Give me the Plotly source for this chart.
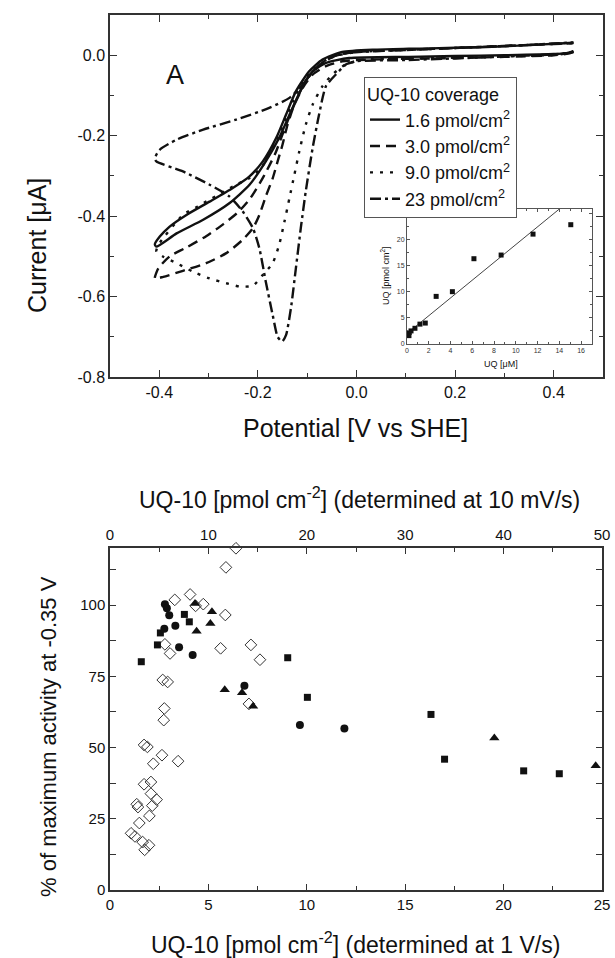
import plotly.graph_objects as go

W, H = 615, 958
def px(x): return x / W
def py(y): return 1 - y / H

# ---------------- Top panel: cyclic voltammograms ----------------
cv_names = ["1.6 pmol/cm<sup>2</sup>", "3.0 pmol/cm<sup>2</sup>",
            "9.0 pmol/cm<sup>2</sup>", "23 pmol/cm<sup>2</sup>"]

e_16 = [0.44, 0.35, 0.25, 0.15, 0.106, 0.039, -0.029, -0.069, -0.096, -0.123, -0.143, -0.163, -0.19,
        -0.217, -0.251, -0.298, -0.345, -0.379, -0.399, -0.409, -0.406, -0.365, -0.311, -0.258,
        -0.217, -0.184, -0.157, -0.133, -0.109, -0.089, -0.062, -0.015, 0.106, 0.2, 0.3, 0.4, 0.43, 0.44]
i_16 = [0.031, 0.025, 0.020, 0.017, 0.016, 0.014, 0.008, -0.011, -0.040, -0.090, -0.148, -0.206, -0.264,
        -0.301, -0.330, -0.364, -0.397, -0.426, -0.451, -0.470, -0.476, -0.443, -0.409, -0.368,
        -0.322, -0.264, -0.206, -0.140, -0.077, -0.040, -0.019, -0.007, -0.004, -0.002, 0.0, 0.003, 0.006, 0.009]

e_30 = [0.44, 0.43, 0.4, 0.3, 0.2, 0.1, 0.0, -0.029, -0.062, -0.089, -0.109, -0.126, -0.140, -0.150,
        -0.160, -0.170, -0.184, -0.197, -0.210, -0.231, -0.264, -0.305, -0.352, -0.392, -0.409, -0.402,
        -0.379, -0.345, -0.305, -0.27, -0.24, -0.215, -0.19, -0.165, -0.145, -0.12, -0.1, -0.07, -0.04,
        0.0, 0.1, 0.2, 0.3, 0.4, 0.44]
i_30 = [0.008, 0.004, 0.0, -0.004, -0.007, -0.009, -0.012, -0.015, -0.027, -0.048, -0.081, -0.123,
        -0.173, -0.222, -0.264, -0.306, -0.351, -0.397, -0.430, -0.459, -0.492, -0.517, -0.536, -0.551,
        -0.555, -0.530, -0.5, -0.478, -0.45, -0.42, -0.39, -0.355, -0.305, -0.245, -0.18, -0.105, -0.058,
        -0.02, 0.0, 0.008, 0.013, 0.018, 0.023, 0.028, 0.030]

e_90 = [0.44, 0.43, 0.4, 0.3, 0.2, 0.1, 0.012, -0.022, -0.049, -0.069, -0.089, -0.103, -0.116, -0.126,
        -0.136, -0.146, -0.157, -0.170, -0.190, -0.210, -0.237, -0.264, -0.298, -0.332, -0.365, -0.392,
        -0.406, -0.402, -0.352, -0.322, -0.298, -0.244, -0.217, -0.194, -0.177, -0.163, -0.143, -0.123,
        -0.103, -0.076, -0.042, 0.0, 0.1, 0.2, 0.3, 0.4, 0.44]
i_90 = [0.009, 0.005, 0.001, -0.003, -0.006, -0.009, -0.011, -0.023, -0.048, -0.077, -0.123, -0.173,
        -0.239, -0.297, -0.355, -0.413, -0.472, -0.517, -0.546, -0.573, -0.575, -0.567, -0.555, -0.538,
        -0.517, -0.501, -0.488, -0.472, -0.397, -0.376, -0.359, -0.322, -0.305, -0.281, -0.247, -0.214,
        -0.156, -0.098, -0.056, -0.023, -0.002, 0.008, 0.013, 0.018, 0.023, 0.028, 0.030]

e_23 = [0.44, 0.43, 0.4, 0.3, 0.2, 0.1, 0.0, -0.02, -0.042, -0.062, -0.076, -0.089, -0.103, -0.113,
        -0.123, -0.133, -0.143, -0.151, -0.160, -0.170, -0.184, -0.197, -0.210, -0.231, -0.258, -0.298,
        -0.352, -0.406, -0.409, -0.399, -0.365, -0.311, -0.244, -0.177, -0.136, -0.109, -0.082, -0.056,
        -0.015, 0.1, 0.2, 0.3, 0.4, 0.44]
i_23 = [0.010, 0.006, 0.002, -0.003, -0.008, -0.012, -0.015, -0.022, -0.048, -0.077, -0.148, -0.231,
        -0.339, -0.430, -0.530, -0.629, -0.696, -0.712, -0.700, -0.646, -0.563, -0.480, -0.430, -0.388,
        -0.351, -0.322, -0.289, -0.264, -0.256, -0.235, -0.210, -0.185, -0.160, -0.131, -0.106, -0.073,
        -0.032, -0.007, 0.006, 0.013, 0.018, 0.023, 0.029, 0.032]

cv_e = [e_16, e_30, e_90, e_23]
cv_i = [i_16, i_30, i_90, i_23]
cv_dash = ["solid", "10px,6px", "3px,7px", "11px,4px,3px,4px"]

top_x_vals = [-0.4, -0.2, 0.0, 0.2, 0.4]
top_x_text = ["-0.4", "-0.2", "0.0", "0.2", "0.4"]
top_y_vals = [0.0, -0.2, -0.4, -0.6, -0.8]
top_y_text = ["0.0", "-0.2", "-0.4", "-0.6", "-0.8"]

# ---------------- Inset: calibration ----------------
inset_conc = [0.18, 0.2, 0.37, 0.73, 1.19, 1.68, 2.68, 4.17, 6.15, 8.65, 11.58, 15.05]
inset_cov = [1.6, 2.2, 2.5, 3.0, 3.8, 4.0, 9.1, 10.0, 16.3, 17.0, 21.0, 22.8]
fit_conc = [0.0, 16.0]
fit_cov = [2.0, 29.2]

# ---------------- Bottom panel ----------------
diam_x = [6.40, 5.89, 4.07, 3.29, 4.74, 4.35, 5.86, 2.79, 3.05, 5.62, 7.16, 7.62, 2.68, 2.93, 2.76,
          2.73, 7.06, 1.73, 1.90, 2.64, 2.20, 3.46, 1.73, 2.08, 2.08, 2.37, 2.15, 1.36, 1.42, 2.00,
          1.49, 1.07, 1.27, 1.66, 1.98, 1.76]
diam_y = [119.9, 113.2, 103.7, 101.8, 100.3, 99.7, 96.5, 86.2, 83.0, 84.8, 86.0, 80.8, 73.7, 73.0,
          63.7, 59.6, 65.3, 50.9, 50.2, 47.3, 44.3, 45.2, 37.1, 37.9, 33.8, 31.7, 29.6, 30.1, 29.1,
          26.0, 23.5, 19.9, 18.8, 16.8, 15.7, 14.1]
circ_x = [2.79, 2.89, 3.01, 2.76, 3.32, 3.51, 4.20, 6.83, 9.65, 11.91]
circ_y = [100.3, 98.9, 96.4, 91.7, 92.7, 85.2, 82.5, 71.7, 57.9, 56.7]
sq_x = [1.59, 2.41, 2.56, 3.78, 4.03, 9.03, 10.03, 16.31, 17.00, 21.02, 22.83]
sq_y = [80.1, 86.0, 90.2, 96.7, 94.1, 81.5, 67.6, 61.6, 45.9, 41.8, 40.8]
tri_x = [4.32, 5.18, 5.10, 4.40, 5.83, 6.71, 7.27, 19.53, 24.68]
tri_y = [100.5, 97.6, 93.5, 90.8, 70.3, 69.2, 64.5, 53.3, 43.6]

FONT = "Liberation Sans, Arial, Helvetica, sans-serif"
INK = "#111111"
FRAME = "#333333"

fig = go.Figure()

for e, i, name, dash in zip(cv_e, cv_i, cv_names, cv_dash):
    fig.add_trace(go.Scatter(x=e, y=i, mode="lines", name=name,
                             line=dict(color=INK, width=2.4, dash=dash, shape="spline", smoothing=0.6),
                             xaxis="x", yaxis="y"))

fig.add_trace(go.Scatter(x=fit_conc, y=fit_cov, mode="lines", showlegend=False,
                         line=dict(color="#444444", width=1), xaxis="x2", yaxis="y2"))
fig.add_trace(go.Scatter(x=inset_conc, y=inset_cov, mode="markers", showlegend=False,
                         marker=dict(symbol="square", size=5, color=INK), xaxis="x2", yaxis="y2"))

fig.add_trace(go.Scatter(x=diam_x, y=diam_y, mode="markers", showlegend=False, cliponaxis=False,
                         marker=dict(symbol="diamond-open", size=9, color="#333333", line=dict(width=1)),
                         xaxis="x3", yaxis="y3"))
fig.add_trace(go.Scatter(x=sq_x, y=sq_y, mode="markers", showlegend=False,
                         marker=dict(symbol="square", size=7, color=INK), xaxis="x3", yaxis="y3"))
fig.add_trace(go.Scatter(x=circ_x, y=circ_y, mode="markers", showlegend=False,
                         marker=dict(symbol="circle", size=8, color=INK), xaxis="x3", yaxis="y3"))
fig.add_trace(go.Scatter(x=tri_x, y=tri_y, mode="markers", showlegend=False,
                         marker=dict(symbol="triangle-up", size=9, color=INK), xaxis="x3", yaxis="y3"))
fig.add_trace(go.Scatter(x=[None], y=[None], showlegend=False, xaxis="x4", yaxis="y3"))

def ax(**kw):
    base = dict(showgrid=False, zeroline=False, showline=True, linecolor=FRAME, linewidth=1.5,
                ticks="inside", tickcolor=FRAME, tickwidth=1.3, mirror="allticks",
                tickfont=dict(family=FONT, size=16, color=INK))
    base.update(kw)
    return base

fig.update_layout(
    width=W, height=H, margin=dict(l=0, r=0, t=0, b=0, autoexpand=False),
    paper_bgcolor="white", plot_bgcolor="white",
    font=dict(family=FONT, color=INK),
    xaxis=ax(domain=[px(110), px(603)], range=[-0.5, 0.5], tickmode="array",
             tickvals=top_x_vals, ticktext=top_x_text,
             ticklen=7, minor=dict(ticks="inside", dtick=0.1, tick0=0, ticklen=4, tickcolor=FRAME),
             anchor="y"),
    yaxis=ax(domain=[py(377), py(15)], range=[-0.8, 0.1], tickmode="array",
             tickvals=top_y_vals, ticktext=top_y_text,
             ticklen=7, minor=dict(ticks="inside", dtick=0.1, tick0=0, ticklen=4, tickcolor=FRAME),
             anchor="x"),
    xaxis2=ax(domain=[px(407), px(592)], range=[0, 17], dtick=2, linecolor="#555555", linewidth=1,
              tickcolor="#555555", tickwidth=0.8, ticklen=3, mirror="allticks",
              tickfont=dict(family=FONT, size=7, color="#333333"),
              minor=dict(ticks="inside", dtick=1, ticklen=2, tickcolor="#555555"), anchor="y2"),
    yaxis2=ax(domain=[py(344), py(209)], range=[0, 25.8], dtick=5, linecolor="#555555", linewidth=1,
              tickcolor="#555555", tickwidth=0.8, ticklen=3, mirror="allticks",
              tickfont=dict(family=FONT, size=7, color="#333333"),
              minor=dict(ticks="inside", dtick=2.5, ticklen=2, tickcolor="#555555"), anchor="x2"),
    xaxis3=ax(domain=[px(110), px(602)], range=[0, 25], dtick=5, ticklen=6, mirror=False,
              tickfont=dict(family=FONT, size=15, color=INK),
              minor=dict(ticks="inside", dtick=2.5, ticklen=4, tickcolor=FRAME), anchor="y3"),
    xaxis4=ax(domain=[px(110), px(602)], range=[0, 50], dtick=10, ticklen=6, mirror=False,
              side="top", overlaying="x3", anchor="y3",
              tickfont=dict(family=FONT, size=15, color=INK),
              minor=dict(ticks="inside", dtick=5, ticklen=4, tickcolor=FRAME)),
    yaxis3=ax(domain=[py(890), py(548)], range=[0, 120], dtick=25, ticklen=6,
              tickfont=dict(family=FONT, size=15, color=INK),
              minor=dict(ticks="inside", dtick=12.5, ticklen=4, tickcolor=FRAME), anchor="x3"),
    legend=dict(x=px(364), y=py(77), xanchor="left", yanchor="top",
                bgcolor="white", bordercolor="#555555", borderwidth=1,
                font=dict(family=FONT, size=18, color=INK),
                title=dict(text="UQ-10 coverage", font=dict(family=FONT, size=18, color=INK)),
                tracegroupgap=0),
    showlegend=True,
)

ann = [
    dict(text="Current [μA]", x=px(37), y=py(246), textangle=-90, size=25),
    dict(text="Potential [V vs SHE]", x=px(355), y=py(428), textangle=0, size=25),
    dict(text="A", x=px(175), y=py(75), textangle=0, size=27),
    dict(text="UQ [μM]", x=px(501), y=py(364), textangle=0, size=9),
    dict(text="UQ [pmol cm<sup>2</sup>]", x=px(385), y=py(276), textangle=-90, size=9),
    dict(text="UQ-10 [pmol cm<sup>-2</sup>] (determined at 10 mV/s)", x=px(359), y=py(498), textangle=0, size=23),
    dict(text="UQ-10 [pmol cm<sup>-2</sup>] (determined at 1 V/s)", x=px(355), y=py(943), textangle=0, size=23),
    dict(text="% of maximum activity at -0.35 V", x=px(48), y=py(737), textangle=-90, size=22),
]
for a in ann:
    fig.add_annotation(text=a["text"], x=a["x"], y=a["y"], xref="paper", yref="paper",
                       xanchor="center", yanchor="middle", showarrow=False, textangle=a["textangle"],
                       font=dict(family=FONT, size=a["size"], color=INK))

fig.write_html("out.html", config={"displayModeBar": False},
               post_script="document.body.style.margin='0';document.body.style.padding='0';"
                           "document.body.style.overflow='hidden';"
                           "document.documentElement.style.overflow='hidden';")
